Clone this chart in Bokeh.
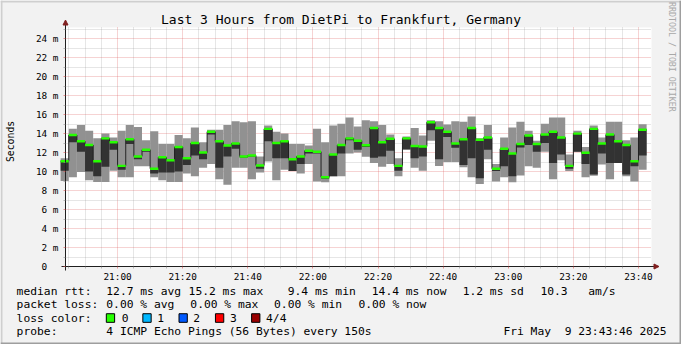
import numpy as np
import pandas as pd
from math import pi
from bokeh.plotting import figure
from bokeh.models import (Range1d, FixedTicker, DatetimeTickFormatter, Label,
                          Arrow, NormalHead, BoxAnnotation, ColumnDataSource)
from bokeh.embed import file_html
from bokeh.resources import INLINE

# ---------------- data ----------------
step_end = pd.date_range("2025-05-09 20:45:00", periods=72, freq="150s")

ping_max = [11.4, 14.5, 14.9, 14.3, 13.5, 14.0, 13.6, 14.3, 14.9, 14.7,
            13.3, 14.25, 12.9, 12.9, 13.85, 13.5, 14.65, 13.1, 14.4, 14.4,
            14.9, 15.3, 15.2, 15.3, 11.6, 14.85, 14.2, 14.0, 12.9, 12.9,
            12.75, 14.5, 13.1, 14.85, 15.05, 15.7, 14.75, 15.4, 15.3, 14.9,
            13.9, 11.4, 13.7, 14.6, 13.8, 15.4, 15.3, 14.95, 15.3, 15.25,
            15.8, 13.5, 14.9, 10.8, 13.6, 14.65, 15.25, 14.3, 13.24, 15.05,
            15.7, 15.7, 11.8, 14.3, 12.6, 14.85, 13.6, 15.25, 15.25, 13.3,
            13.6, 15.0]
ping_min = [9.0, 9.4, 9.95, 9.1, 8.9, 8.9, 10.1, 9.4, 9.4, 10.55,
            10.55, 9.4, 9.1, 8.9, 8.9, 9.8, 9.5, 10.4, 10.8, 9.2,
            8.6, 10.4, 10.4, 9.2, 9.9, 11.05, 9.1, 10.2, 10.05, 9.8,
            10.8, 8.96, 8.87, 9.5, 9.5, 11.9, 12.0, 11.55, 10.9, 10.5,
            10.8, 9.5, 12.33, 10.4, 10.1, 13.25, 10.6, 11.0, 11.0, 10.45,
            9.4, 8.7, 11.3, 8.96, 9.4, 8.87, 9.6, 10.55, 10.4, 12.1,
            9.2, 11.2, 10.05, 12.1, 9.4, 9.55, 10.75, 9.2, 10.9, 9.5,
            8.96, 10.2]
median_rtt = [11.1, 13.85, 13.2, 12.8, 11.1, 13.5, 13.1, 10.6, 13.4, 11.6,
              12.3, 10.3, 11.5, 11.2, 12.6, 11.4, 13.0, 12.0, 14.2, 13.2,
              12.75, 12.95, 11.6, 11.7, 10.65, 14.5, 13.0, 13.2, 11.3, 11.6,
              12.2, 12.1, 9.4, 11.8, 12.8, 13.5, 13.25, 12.77, 14.6, 13.1,
              13.45, 10.6, 13.5, 12.7, 12.65, 15.2, 14.6, 14.2, 12.95, 13.4,
              14.6, 13.35, 13.6, 10.3, 12.4, 11.9, 12.9, 13.8, 12.9, 13.9,
              14.2, 13.6, 10.6, 14.0, 11.98, 14.5, 12.95, 13.9, 13.2, 12.8,
              11.1, 14.4]
inner_low = [10.1, 13.1, 12.1, 10.0, 9.5, 10.5, 12.3, 10.2, 12.9, 11.3,
             12.1, 9.8, 9.9, 9.9, 10.0, 10.7, 11.7, 11.3, 13.9, 10.4,
             11.6, 12.4, 11.45, 11.55, 10.3, 13.2, 11.4, 11.4, 10.05, 10.8,
             11.9, 11.9, 9.25, 9.5, 11.9, 13.3, 12.3, 12.6, 11.45, 11.6,
             12.2, 10.1, 12.33, 11.4, 11.6, 14.35, 11.3, 13.65, 12.5, 10.7,
             11.4, 9.3, 12.3, 10.05, 10.55, 9.5, 12.55, 12.8, 12.1, 13.0,
             10.9, 11.8, 10.3, 12.1, 10.8, 9.7, 11.9, 10.9, 10.9, 9.7,
             10.55, 11.7]

title_text = "Last 3 Hours from DietPi to Frankfurt, Germany"
y_axis_title = "Seconds"
watermark = "RRDTOOL / TOBI OETIKER"
x_tick_times = pd.date_range("2025-05-09 21:00", "2025-05-09 23:40", freq="20min")
x_minor_times = pd.date_range("2025-05-09 20:45", "2025-05-09 23:40", freq="5min")
y_tick_values = [0, 2, 4, 6, 8, 10, 12, 14, 16, 18, 20, 22, 24]
y_tick_labels = ["0\u00a0\u00a0", "2 m", "4 m", "6 m", "8 m", "10 m", "12 m",
                 "14 m", "16 m", "18 m", "20 m", "22 m", "24 m"]
y_minor_values = [1, 3, 5, 7, 9, 11, 13, 15, 17, 19, 21, 23, 25]

rtt_label = "median rtt:"
rtt_stats = ["12.7 ms avg", "15.2 ms max", "9.4 ms min", "14.4 ms now",
             "1.2 ms sd", "10.3", "am/s"]
loss_label = "packet loss:"
loss_stats = ["0.00 % avg", "0.00 % max", "0.00 % min", "0.00 % now"]
color_label = "loss color:"
loss_classes = ["0", "1", "2", "3", "4/4"]
loss_colors = ["#26ff00", "#00b8ff", "#0059ff", "#ff0000", "#990000"]
probe_label = "probe:"
probe_text = "4 ICMP Echo Pings (56 Bytes) every 150s"
stamp_text = "Fri May\u00a0 9 23:43:46 2025"

# ---------------- geometry / style ----------------
MONO = "DejaVu Sans Mono"
FW, FH = 681, 344                 # figure size
SX, SY = FW / 697.0, FH / 360.0   # reference -> figure scale
LP, RP, TP, BP = 65.0, 651.0, 27.0, 266.0   # plot area in figure px
T0 = pd.Timestamp("2025-05-09 20:44:00")
T1 = pd.Timestamp("2025-05-09 23:44:00")
T0_MS = float(T0.value // 10**6)
T1_MS = float(T1.value // 10**6)
Y_TOP = 25.18
MSPP = (T1_MS - T0_MS) / (RP - LP)
PPU = (BP - TP) / Y_TOP
BAR_HALF = 0.13     # half height of the loss-coloured median bar


def XP(fx):            # figure px -> x data
    return T0_MS + (fx - LP) * MSPP


def YP(fy):            # figure px -> y data
    return (BP - fy) / PPU


def X(sx):             # reference px -> x data
    return XP(sx * SX)


def Y(sy):             # reference px -> y data
    return YP(sy * SY)


def ms(idx):
    return [float(v) for v in (idx.asi8 // 10**6)]


end_ms = np.array(ms(step_end))
start_ms = end_ms - 150 * 1000
med = np.array(median_rtt)

src = ColumnDataSource(dict(
    left=start_ms, right=end_ms,
    lo=np.array(ping_min), hi=np.array(ping_max),
    dlo=np.array(inner_low), med=med,
    gb=med - BAR_HALF, gt=med + BAR_HALF,
))

p = figure(width=FW, height=FH, x_axis_type="datetime",
           x_range=Range1d(XP(0), XP(FW)), y_range=Range1d(YP(FH), YP(0)),
           output_backend="svg", toolbar_location=None, title=None,
           min_border=0, min_border_left=0, min_border_right=0,
           min_border_top=0, min_border_bottom=0,
           background_fill_color="#f2f2f2", border_fill_color="#f2f2f2",
           outline_line_color=None)

# white canvas of the graph, below the grid
p.add_layout(BoxAnnotation(left=T0_MS, right=T1_MS, bottom=0, top=Y_TOP,
                           fill_color="#ffffff", fill_alpha=1, line_color=None,
                           level="image"))

# smoke
p.quad(left="left", right="right", bottom="lo", top="hi", source=src,
       fill_color="#919191", line_color=None)
p.quad(left="left", right="right", bottom="dlo", top="med", source=src,
       fill_color="#323232", line_color=None)
# median line (step)
line_x = np.column_stack([start_ms, end_ms]).ravel()
line_y = np.repeat(med, 2)
p.line(line_x, line_y, line_color="#202020", line_width=1)
# loss-coloured median bar
p.quad(left="left", right="right", bottom="gb", top="gt", source=src,
       fill_color=loss_colors[0], line_color=None)

# ---------------- axes ----------------
xt = FixedTicker(ticks=ms(x_tick_times),
                 minor_ticks=[m for m in ms(x_minor_times) if m not in ms(x_tick_times)])
yt = FixedTicker(ticks=y_tick_values, minor_ticks=y_minor_values)
xax = p.xaxis[0]
yax = p.yaxis[0]
xax.ticker = xt
yax.ticker = yt
p.xgrid.ticker = xt
p.ygrid.ticker = yt
fmt = "%H:%M"
xax.formatter = DatetimeTickFormatter(seconds=fmt, minsec=fmt, minutes=fmt,
                                      hourmin=fmt, hours=fmt, days=fmt)
yax.major_label_overrides = {v: s for v, s in zip(y_tick_values, y_tick_labels)}
xax.fixed_location = 0
yax.fixed_location = T0_MS
xax.bounds = (XP(LP - 4), XP(RP + 4))
yax.bounds = (YP(BP + 4), YP(TP - 4))

for ax in (xax, yax):
    ax.axis_line_color = "#1f1f1f"
    ax.axis_line_width = 1
    ax.major_tick_in = 0
    ax.minor_tick_in = 0
    ax.major_tick_out = 2
    ax.minor_tick_out = 2
    ax.major_tick_line_color = "#de5050"
    ax.major_tick_line_alpha = 0.6
    ax.minor_tick_line_color = "#8f8f8f"
    ax.minor_tick_line_alpha = 0.6
    ax.major_label_text_font = MONO
    ax.major_label_text_font_size = "9.4px"
    ax.major_label_text_color = "#000000"
xax.major_label_standoff = 2
yax.major_label_standoff = 5

for g, cb in ((p.xgrid[0], (0.0, Y_TOP)), (p.ygrid[0], (T0_MS, T1_MS))):
    g.grid_line_color = "#de5050"
    g.grid_line_alpha = 0.5
    g.grid_line_dash = "1 1"
    g.minor_grid_line_color = "#8f8f8f"
    g.minor_grid_line_alpha = 0.45
    g.minor_grid_line_dash = "1 1"
    g.cross_bounds = cb

# arrow heads
ARROW_COL = "#801f1f"
p.add_layout(Arrow(end=NormalHead(size=5, fill_color=ARROW_COL, line_color=ARROW_COL),
                   x_start=XP(RP + 2), y_start=0, x_end=XP(RP + 7.5), y_end=0,
                   line_color=None))
p.add_layout(Arrow(end=NormalHead(size=5, fill_color=ARROW_COL, line_color=ARROW_COL),
                   x_start=T0_MS, y_start=YP(TP - 2), x_end=T0_MS, y_end=YP(TP - 7.5),
                   line_color=None))

# bevel of the image border
p.add_layout(BoxAnnotation(right=XP(2), fill_color="#cfcfcf", fill_alpha=1, line_color=None))
p.add_layout(BoxAnnotation(bottom=YP(2), fill_color="#cfcfcf", fill_alpha=1, line_color=None))
p.add_layout(BoxAnnotation(left=XP(FW - 2), fill_color="#9e9e9e", fill_alpha=1, line_color=None))
p.add_layout(BoxAnnotation(top=YP(FH - 2), fill_color="#9e9e9e", fill_alpha=1, line_color=None))


# ---------------- texts ----------------
def txt(sx, sy, s, size="11.3px", align="left", angle=0, color="#000000"):
    p.add_layout(Label(x=X(sx), y=Y(sy), text=s, text_font=MONO,
                       text_font_size=size, text_align=align,
                       text_baseline="middle", angle=angle, text_color=color))


txt(348.5, 19.5, title_text, size="13px", align="center")
txt(10.5, 147.5, y_axis_title, size="9.8px", align="center", angle=pi / 2)
txt(687.5, 59, watermark, size="8.3px", align="center", angle=-pi / 2, color="#a8a8a8")

ROW1, ROW2, ROW3, ROW4 = 304.3, 318.3, 332.3, 346.0
txt(16.5, ROW1, rtt_label)
for sx, s in zip([108.3, 192.5, 294, 380, 473, 552.6, 601.6], rtt_stats):
    txt(sx, ROW1, s)
txt(16.5, ROW2, loss_label)
for sx, s in zip([108.3, 194.3, 280, 366.3], loss_stats):
    txt(sx, ROW2, s)
txt(16.5, ROW3, color_label)
for bx, tx, s, c in zip([108.3, 145.7, 182.7, 220, 257],
                        [124, 160.4, 197.4, 234.8, 271.8], loss_classes, loss_colors):
    p.add_layout(BoxAnnotation(left=X(bx), right=X(bx + 8.5), top=Y(ROW3 - 4.5),
                               bottom=Y(ROW3 + 4.5), fill_color=c, fill_alpha=1,
                               line_color="#000000", line_width=1, line_alpha=1))
    txt(tx, ROW3, s)
txt(16.5, ROW4, probe_label)
txt(108.3, ROW4, probe_text)
txt(681.8, ROW4, stamp_text, align="right")

open("out.html", "w").write(file_html(p, INLINE))
